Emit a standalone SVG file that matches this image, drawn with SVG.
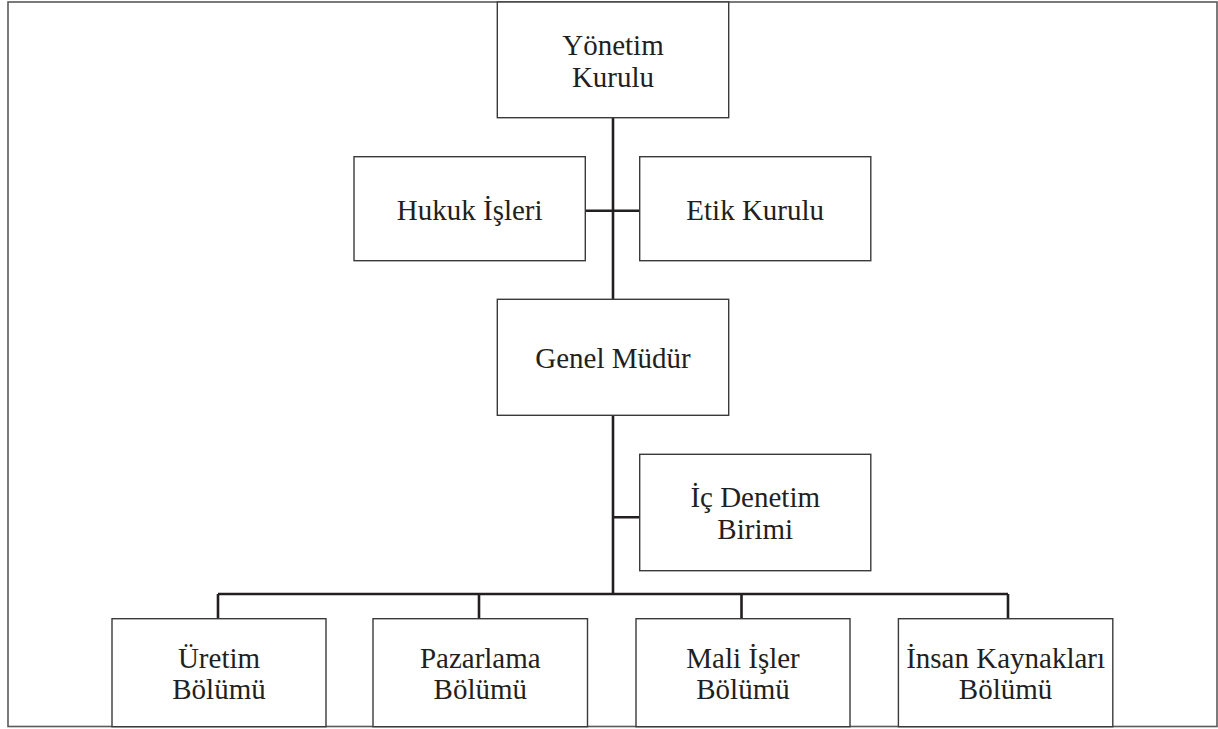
<svg xmlns="http://www.w3.org/2000/svg" width="1218" height="729" viewBox="0 0 1218 729">
<style>
.frame{fill:#fff;stroke:#5a5a5a;stroke-width:1.6}
.box{fill:#fff;stroke:#3a3a3a;stroke-width:1.4}
.conn{fill:none;stroke:#231f20;stroke-width:2.6}
.t{font-family:"Liberation Serif","Times New Roman",serif;font-size:29px;fill:#231f20;text-anchor:middle}
</style>
<rect class="frame" x="8" y="2" width="1209" height="724.5"/>
<g id="connectors">
<path class="conn" d="M613,118 V299 M613,415 V594 M585,210.7 H640 M613,517.3 H640 M218,594 H1008 M218,594 V619 M479,594 V619 M741.5,594 V619 M1008,594 V619"/>
</g>
<g id="yonetim">
<rect class="box" x="497.3" y="2" width="231.4" height="115.7"/>
<text class="t" x="613" y="55">Yönetim</text>
<text class="t" x="613" y="87">Kurulu</text>
</g>
<g id="hukuk">
<rect class="box" x="354" y="156.7" width="231.3" height="104"/>
<text class="t" x="469.7" y="220">Hukuk İşleri</text>
</g>
<g id="etik">
<rect class="box" x="639.7" y="156.7" width="231.1" height="104"/>
<text class="t" x="755.2" y="220">Etik Kurulu</text>
</g>
<g id="genel">
<rect class="box" x="497.3" y="299.3" width="231.4" height="116"/>
<text class="t" x="613" y="368">Genel Müdür</text>
</g>
<g id="icdenetim">
<rect class="box" x="639.7" y="454.3" width="231.1" height="116.4"/>
<text class="t" x="755.2" y="507.3">İç Denetim</text>
<text class="t" x="755.2" y="539.3">Birimi</text>
</g>
<g id="uretim">
<rect class="box" x="112" y="618.7" width="214" height="108"/>
<text class="t" x="219" y="667.7">Üretim</text>
<text class="t" x="219" y="699">Bölümü</text>
</g>
<g id="pazarlama">
<rect class="box" x="373" y="618.7" width="214.5" height="108"/>
<text class="t" x="480.3" y="667.7">Pazarlama</text>
<text class="t" x="480.3" y="699">Bölümü</text>
</g>
<g id="mali">
<rect class="box" x="636" y="618.7" width="214" height="108"/>
<text class="t" x="743" y="667.7">Mali İşler</text>
<text class="t" x="743" y="699">Bölümü</text>
</g>
<g id="insan">
<rect class="box" x="898.4" y="618.7" width="214.4" height="108"/>
<text class="t" x="1005.6" y="667.7">İnsan Kaynakları</text>
<text class="t" x="1005.6" y="699">Bölümü</text>
</g>
</svg>
